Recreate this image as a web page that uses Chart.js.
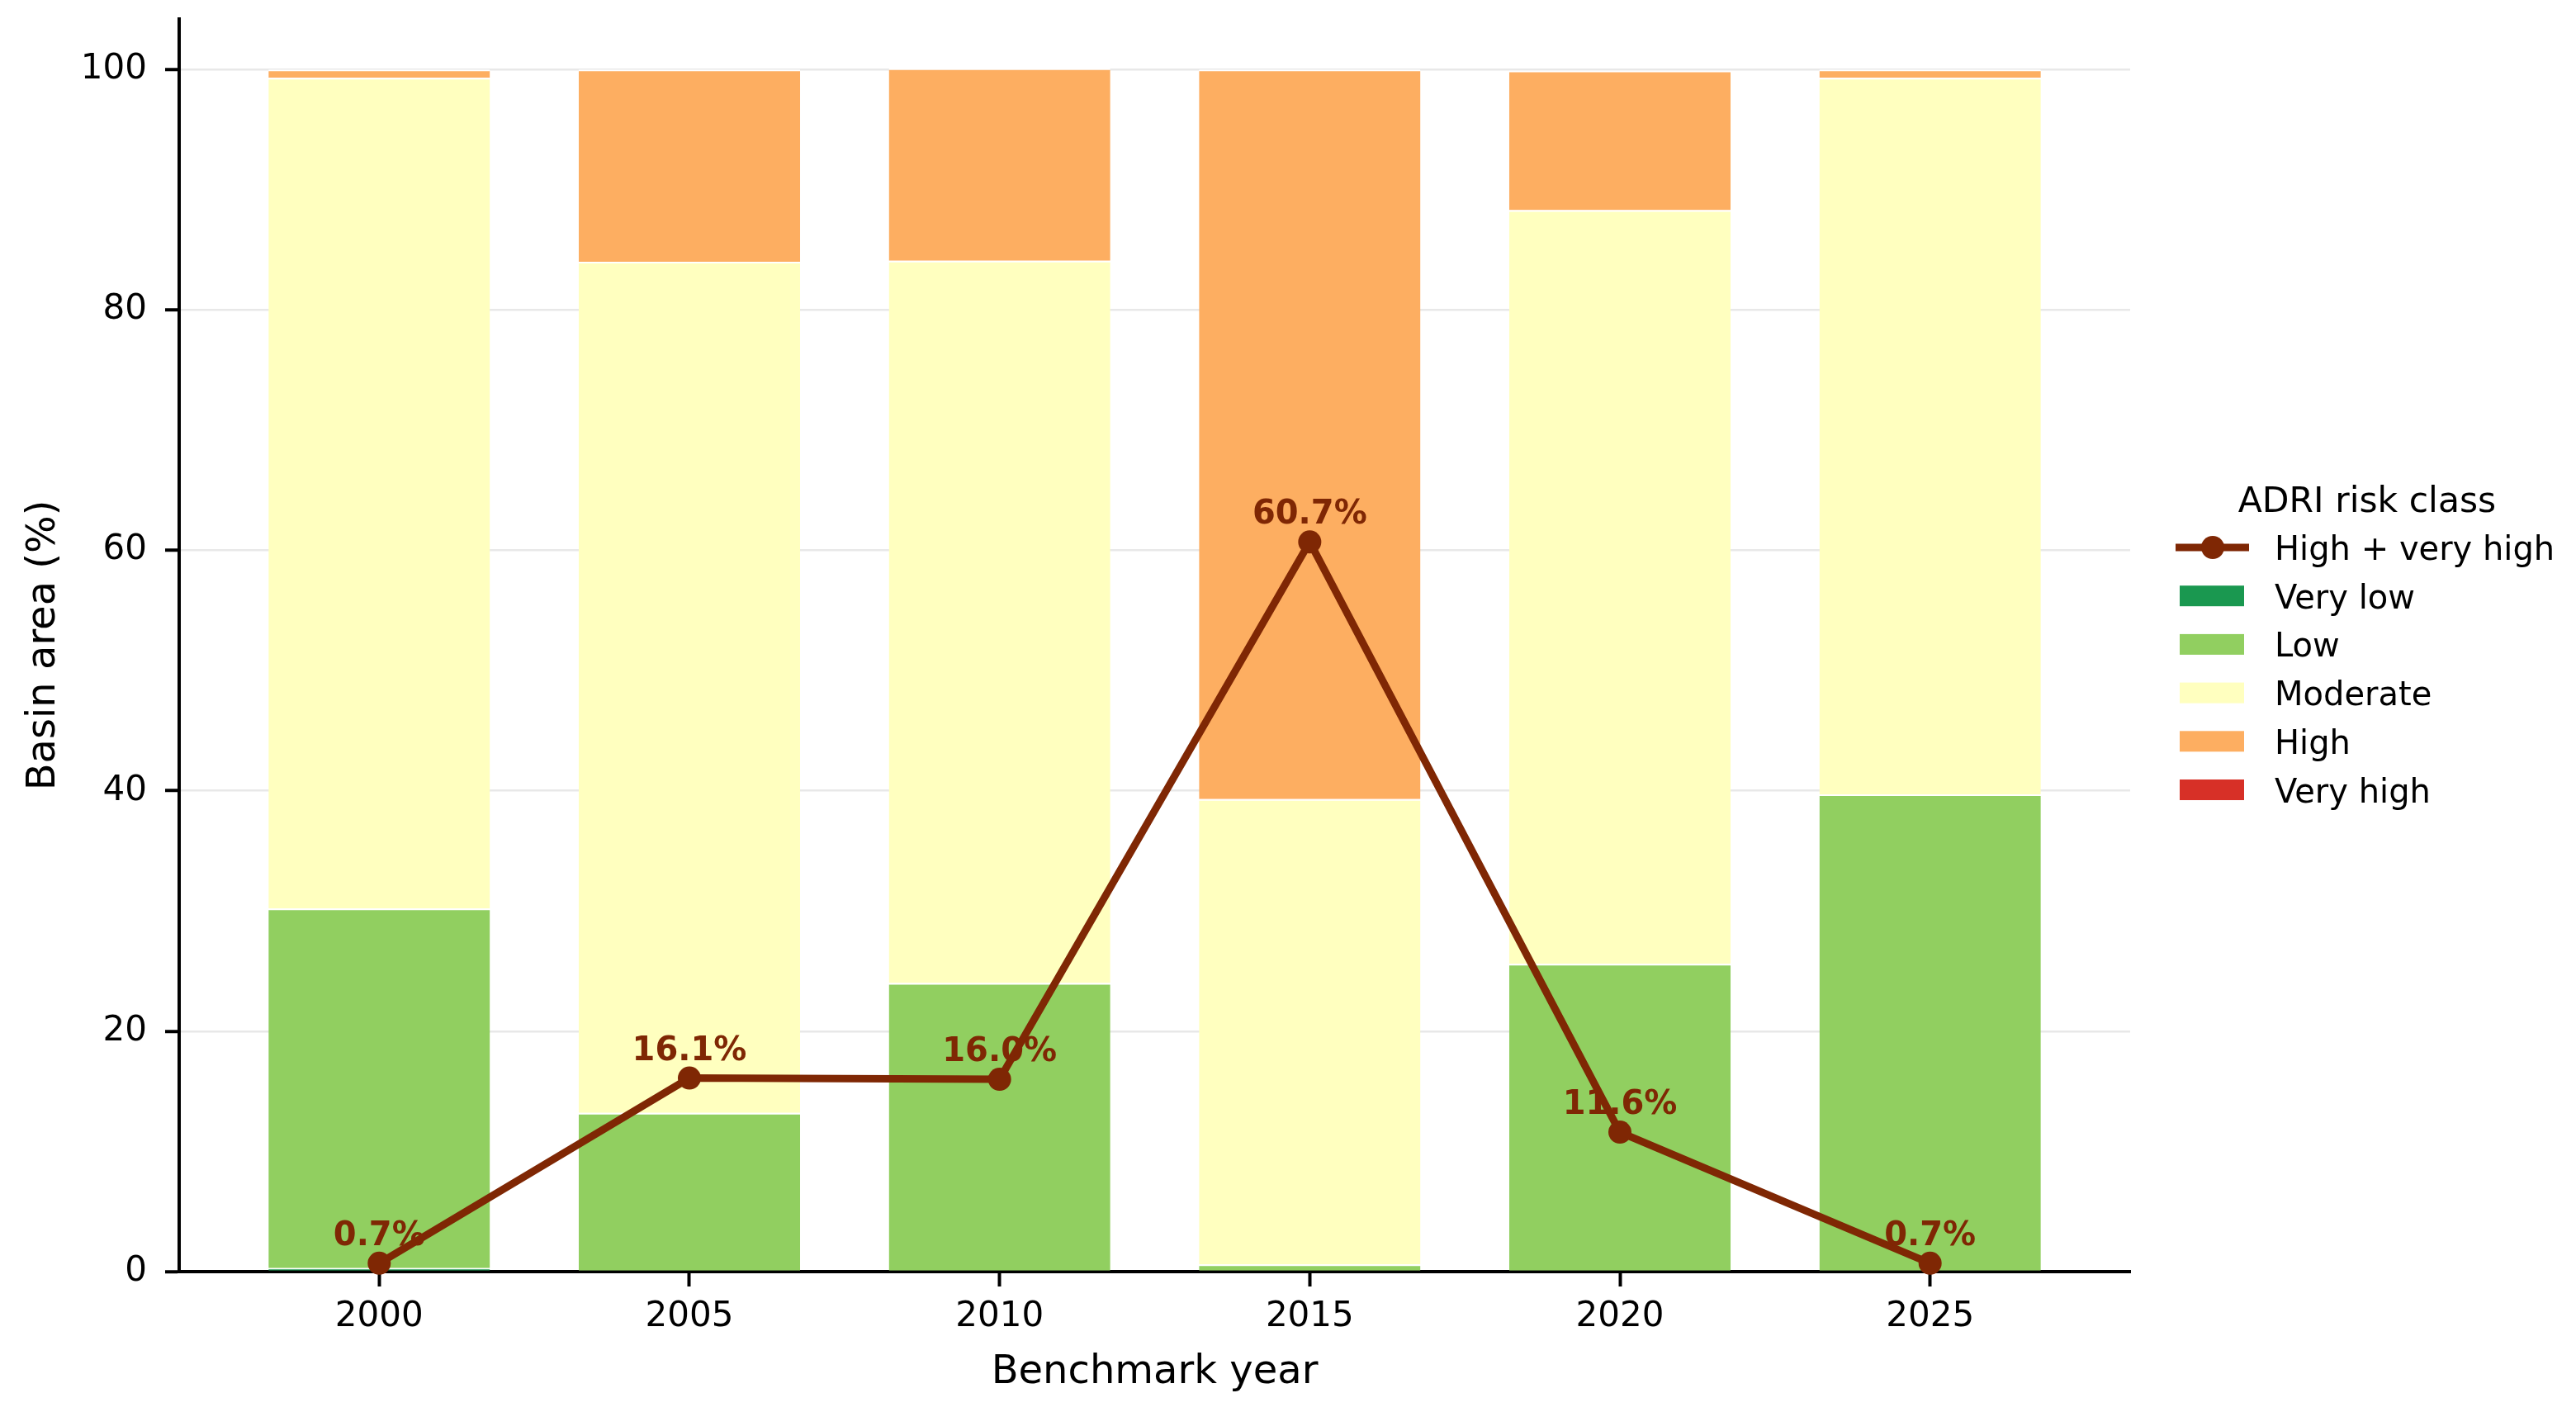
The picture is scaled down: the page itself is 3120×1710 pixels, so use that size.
<!DOCTYPE html>
<html>
<head>
<meta charset="utf-8">
<script src="https://cdn.jsdelivr.net/npm/chart.js@4.4.1/dist/chart.umd.min.js"></script>
<style>
  html, body { margin: 0; padding: 0; background: #ffffff; }
  canvas { display: block; }
</style>
</head>
<body>
<canvas id="chart" width="3120" height="1710"></canvas>
<script>
// benchmark years and their tick labels
const years = [2000, 2005, 2010, 2015, 2020, 2025];
const yearLabels = ['2000', '2005', '2010', '2015', '2020', '2025'];

// basin area (%) per ADRI risk class
const veryLow  = [0.3, 0.0, 0.0, 0.0, 0.0, 0.0];
const low      = [29.9, 13.2, 24.0, 0.6, 25.6, 39.7];
const moderate = [69.1, 70.8, 60.1, 38.7, 62.7, 59.6];
const high     = [0.7, 16.0, 16.0, 60.7, 11.6, 0.7];
const veryHigh = [0.0, 0.0, 0.0, 0.0, 0.0, 0.0];

// high + very high share, shown as the line
const highPlusVeryHigh = [0.7, 16.1, 16.0, 60.7, 11.6, 0.7];

const yTicks = [0, 20, 40, 60, 80, 100];

const lineColor = '#7f2704';
const font = 'DejaVu Sans';

Chart.defaults.font.family = font;
Chart.defaults.color = '#000000';

const toPoints = vals => years.map((yr, i) => ({ x: yr, y: vals[i] }));

function barSet(label, vals, color) {
  return {
    type: 'bar',
    label: label,
    data: toPoints(vals),
    backgroundColor: color,
    borderColor: '#ffffff',
    borderWidth: { top: 2, right: 0, bottom: 0, left: 0 },
    borderSkipped: 'start',
    barPercentage: 0.714,
    categoryPercentage: 1.0,
    stack: 'classes',
    order: 1,
  };
}

const datasets = [
  {
    type: 'line',
    label: 'High + very high',
    data: toPoints(highPlusVeryHigh),
    borderColor: lineColor,
    backgroundColor: lineColor,
    borderWidth: 9,
    pointRadius: 14,
    pointBorderWidth: 0,
    pointBackgroundColor: lineColor,
    tension: 0,
    clip: false,
    stack: 'line',
    order: 0,
  },
  barSet('Very low', veryLow, '#1a9850'),
  barSet('Low', low, '#91cf60'),
  barSet('Moderate', moderate, '#ffffbf'),
  barSet('High', high, '#fdae61'),
  barSet('Very high', veryHigh, '#d73027'),
];

// percent labels above the line points
const pointLabels = {
  id: 'pointLabels',
  afterDatasetsDraw(chart) {
    const ctx = chart.ctx;
    const meta = chart.getDatasetMeta(0);
    ctx.save();
    ctx.font = 'bold 40px "' + font + '"';
    ctx.fillStyle = lineColor;
    ctx.textAlign = 'center';
    ctx.textBaseline = 'alphabetic';
    meta.data.forEach((pt, i) => {
      ctx.fillText(highPlusVeryHigh[i].toFixed(1) + '%', pt.x, pt.y - 22);
    });
    ctx.restore();
  }
};

// matplotlib-like legend to the right of the plot
const sideLegend = {
  id: 'sideLegend',
  afterDraw(chart) {
    const ctx = chart.ctx;
    ctx.save();
    ctx.fillStyle = '#000000';
    ctx.font = '42.5px "' + font + '"';
    ctx.textAlign = 'center';
    ctx.textBaseline = 'alphabetic';
    ctx.fillText('ADRI risk class', 2867, 620);

    ctx.font = '40px "' + font + '"';
    ctx.textAlign = 'left';
    chart.data.datasets.forEach((ds, i) => {
      const base = 678 + 58.7 * i;
      const cy = base - 15;
      if (ds.type === 'line') {
        ctx.strokeStyle = ds.borderColor;
        ctx.lineWidth = 9;
        ctx.beginPath();
        ctx.moveTo(2635, cy);
        ctx.lineTo(2724, cy);
        ctx.stroke();
        ctx.fillStyle = ds.borderColor;
        ctx.beginPath();
        ctx.arc(2680, cy, 14, 0, Math.PI * 2);
        ctx.fill();
      } else {
        ctx.fillStyle = ds.backgroundColor;
        ctx.fillRect(2640, cy - 12.5, 78, 25);
      }
      ctx.fillStyle = '#000000';
      ctx.fillText(ds.label, 2755, base);
    });
    ctx.restore();
  }
};

new Chart(document.getElementById('chart'), {
  data: { datasets: datasets },
  options: {
    responsive: false,
    devicePixelRatio: 1,
    animation: false,
    layout: { padding: { top: 0, right: 540, bottom: 0, left: 0 } },
    plugins: {
      legend: { display: false },
      tooltip: { enabled: false },
    },
    scales: {
      x: {
        type: 'linear',
        offset: false,
        min: 2000 - 3.225,
        max: 2025 + 3.225,
        afterFit: s => {
          s.height = 170;
          s.paddingLeft = 0;
          s.paddingRight = 0;
        },
        grid: {
          offset: false,
          drawOnChartArea: false,
          drawTicks: true,
          tickLength: 18,
          tickColor: '#000000',
          tickWidth: 4,
        },
        border: { display: true, color: '#000000', width: 4 },
        ticks: {
          stepSize: 5,
          includeBounds: false,
          padding: 12,
          font: { size: 42 },
          color: '#000000',
          maxRotation: 0,
          autoSkip: false,
          callback: v => {
            const i = years.indexOf(v);
            return i >= 0 ? yearLabels[i] : '';
          },
        },
        title: {
          display: true,
          text: 'Benchmark year',
          font: { size: 48 },
          color: '#000000',
          padding: { top: 0, bottom: 19 },
        },
      },
      y: {
        type: 'linear',
        stacked: true,
        min: 0,
        max: 104.2,
        afterFit: s => {
          s.width = 217;
          s.paddingTop = 23;
          s.paddingBottom = 0;
        },
        grid: {
          color: '#e8e8e8',
          lineWidth: 2.5,
          drawTicks: true,
          tickLength: 17,
          tickColor: '#000000',
          tickWidth: 4,
        },
        border: { display: true, color: '#000000', width: 4 },
        ticks: {
          stepSize: 20,
          includeBounds: false,
          padding: 22,
          font: { size: 42 },
          color: '#000000',
          callback: v => (yTicks.includes(v) ? String(v) : ''),
        },
        title: {
          display: true,
          text: 'Basin area (%)',
          font: { size: 48 },
          color: '#000000',
          padding: { top: 25, bottom: 0 },
        },
      },
    },
  },
  plugins: [pointLabels, sideLegend],
});
</script>
</body>
</html>
